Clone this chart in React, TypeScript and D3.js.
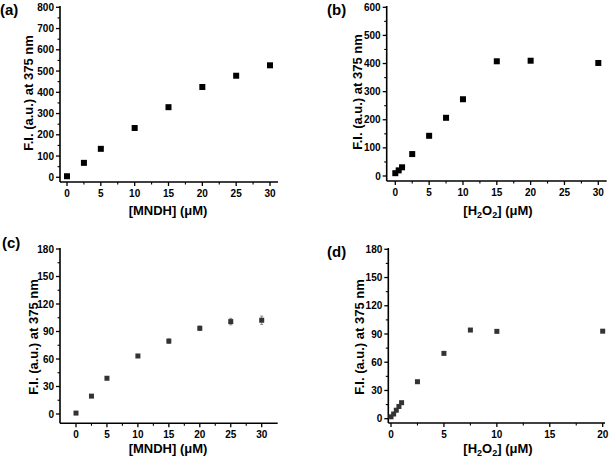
import React from "react";
import * as d3 from "d3";

const xA = [0, 2.5, 5, 10, 15, 20, 25, 30];
const yA = [5, 68, 134, 232, 330, 425, 478, 527];

const xB = [0, 0.5, 1, 2.5, 5, 7.5, 10, 15, 20, 30];
const yB = [10, 20, 31, 78, 143, 207, 273, 408, 410, 402];

const xC = [0, 2.5, 5, 10, 15, 20, 25, 30];
const yC = [1, 19.5, 39, 63.3, 79.5, 93.5, 100.8, 102.3];
const eC = [0.8, 1, 1, 1.2, 2.5, 2.5, 3.5, 4.5];

const xD = [0, 0.25, 0.5, 0.75, 1, 2.5, 5, 7.5, 10, 20];
const yD = [2, 5, 9, 13, 17, 39.3, 69.4, 94.2, 92.8, 93];

const yTicksAB1 = [0, 100, 200, 300, 400, 500, 600, 700, 800];
const yTicksB = [0, 100, 200, 300, 400, 500, 600];
const yTicksCD = [0, 30, 60, 90, 120, 150, 180];
const xTicks30 = [0, 5, 10, 15, 20, 25, 30];
const xTicks20 = [0, 5, 10, 15, 20];

const FONT = "'Liberation Sans', Arial, sans-serif";

type PanelProps = {
  label: string;
  labelX: number;
  labelY: number;
  left: number;
  right: number;
  top: number;
  bottom: number;
  yZeroPx: number;
  yMaxPx: number;
  yMax: number;
  xZeroPx: number;
  xMaxPx: number;
  xMax: number;
  xTicks: number[];
  yTicks: number[];
  xs: number[];
  ys: number[];
  errs?: number[];
  color: string;
  size: number;
  xTitle: React.ReactNode;
  xTitleX: number;
  xTitleY: number;
  yTitleX: number;
  yTitleY: number;
};

function Panel(p: PanelProps) {
  const x = d3.scaleLinear().domain([0, p.xMax]).range([p.xZeroPx, p.xMaxPx]);
  const y = d3.scaleLinear().domain([0, p.yMax]).range([p.yZeroPx, p.yMaxPx]);
  const xStep = p.xTicks[1] - p.xTicks[0];
  const yStep = p.yTicks[1] - p.yTicks[0];
  const xMinor: number[] = [];
  for (let i = 0; i < p.xTicks.length - 1; i++) xMinor.push(p.xTicks[i] + xStep / 2);
  const yMinor: number[] = [];
  for (let i = 0; i < p.yTicks.length - 1; i++) yMinor.push(p.yTicks[i] + yStep / 2);
  return (
    <g>
      <text x={p.labelX} y={p.labelY} fontFamily={FONT} fontWeight="bold" fontSize={15}>
        {p.label}
      </text>
      <line x1={p.left} x2={p.left} y1={p.top} y2={p.bottom} stroke="#000" strokeWidth={1.6} />
      <line x1={p.left} x2={p.right} y1={p.bottom} y2={p.bottom} stroke="#000" strokeWidth={1.6} />
      {p.yTicks.map((t) => (
        <g key={"y" + t}>
          <line x1={p.left - 4} x2={p.left} y1={y(t)} y2={y(t)} stroke="#000" strokeWidth={1.3} />
          <text x={p.left - 6} y={y(t)} dy="0.35em" textAnchor="end" fontFamily={FONT} fontWeight="bold" fontSize={10}>
            {t}
          </text>
        </g>
      ))}
      {yMinor.map((t) => (
        <line key={"ym" + t} x1={p.left - 2.5} x2={p.left} y1={y(t)} y2={y(t)} stroke="#000" strokeWidth={1.1} />
      ))}
      {p.xTicks.map((t) => (
        <g key={"x" + t}>
          <line x1={x(t)} x2={x(t)} y1={p.bottom} y2={p.bottom + 4} stroke="#000" strokeWidth={1.3} />
          <text x={x(t)} y={p.bottom + 15} textAnchor="middle" fontFamily={FONT} fontWeight="bold" fontSize={10}>
            {t}
          </text>
        </g>
      ))}
      {xMinor.map((t) => (
        <line key={"xm" + t} x1={x(t)} x2={x(t)} y1={p.bottom} y2={p.bottom + 2.5} stroke="#000" strokeWidth={1.1} />
      ))}
      {p.errs &&
        p.xs.map((v, i) => (
          <g key={"e" + i} stroke="#888" strokeWidth={1}>
            <line x1={x(v)} x2={x(v)} y1={y(p.ys[i] - p.errs![i])} y2={y(p.ys[i] + p.errs![i])} />
            <line x1={x(v) - 1.5} x2={x(v) + 1.5} y1={y(p.ys[i] - p.errs![i])} y2={y(p.ys[i] - p.errs![i])} />
            <line x1={x(v) - 1.5} x2={x(v) + 1.5} y1={y(p.ys[i] + p.errs![i])} y2={y(p.ys[i] + p.errs![i])} />
          </g>
        ))}
      {p.xs.map((v, i) => (
        <rect
          key={"p" + i}
          x={x(v) - p.size / 2}
          y={y(p.ys[i]) - p.size / 2}
          width={p.size}
          height={p.size}
          fill={p.color}
        />
      ))}
      <text
        transform={`translate(${p.yTitleX},${p.yTitleY}) rotate(-90)`}
        textAnchor="middle"
        dy="0.35em"
        fontFamily={FONT}
        fontWeight="bold"
        fontSize={13}
      >
        F.I. (a.u.) at 375 nm
      </text>
      <text x={p.xTitleX} y={p.xTitleY} textAnchor="middle" fontFamily={FONT} fontWeight="bold" fontSize={13}>
        {p.xTitle}
      </text>
    </g>
  );
}

const h2o2 = (
  <>
    [H
    <tspan fontSize={9} dy={3}>2</tspan>
    <tspan dy={-3}>O</tspan>
    <tspan fontSize={9} dy={3}>2</tspan>
    <tspan dy={-3}>] (μM)</tspan>
  </>
);

export default function App() {
  return (
    <svg
      width={610}
      height={463}
      style={{ position: "absolute", left: 0, top: 0, background: "#fff" }}
    >
      <rect width={610} height={463} fill="#fff" />
      <Panel
        label="(a)" labelX={0} labelY={14.5}
        left={60} right={278} top={6} bottom={182}
        yZeroPx={177.3} yMaxPx={7.3} yMax={800}
        xZeroPx={67} xMaxPx={270} xMax={30}
        xTicks={xTicks30} yTicks={yTicksAB1}
        xs={xA} ys={yA} color="#000" size={6}
        xTitle="[MNDH] (μM)" xTitleX={168} xTitleY={215}
        yTitleX={28} yTitleY={93}
      />
      <Panel
        label="(b)" labelX={327} labelY={14.5}
        left={386.7} right={606.7} top={6} bottom={181}
        yZeroPx={176} yMaxPx={7.3} yMax={600}
        xZeroPx={395.3} xMaxPx={598.3} xMax={30}
        xTicks={xTicks30} yTicks={yTicksB}
        xs={xB} ys={yB} color="#000" size={6}
        xTitle={h2o2} xTitleX={498} xTitleY={215}
        yTitleX={357} yTitleY={92}
      />
      <Panel
        label="(c)" labelX={2} labelY={248}
        left={60} right={277.7} top={248} bottom={423.3}
        yZeroPx={414} yMaxPx={249} yMax={180}
        xZeroPx={76} xMaxPx={261.7} xMax={30}
        xTicks={xTicks30} yTicks={yTicksCD}
        xs={xC} ys={yC} errs={eC} color="#333" size={5}
        xTitle="[MNDH] (μM)" xTitleX={168} xTitleY={453}
        yTitleX={33} yTitleY={337}
      />
      <Panel
        label="(d)" labelX={327} labelY={257}
        left={388.3} right={605} top={248} bottom={423}
        yZeroPx={418.7} yMaxPx={249.3} yMax={180}
        xZeroPx={391} xMaxPx={602.7} xMax={20}
        xTicks={xTicks20} yTicks={yTicksCD}
        xs={xD} ys={yD} color="#333" size={5}
        xTitle={h2o2} xTitleX={498} xTitleY={453}
        yTitleX={359} yTitleY={337}
      />
    </svg>
  );
}
